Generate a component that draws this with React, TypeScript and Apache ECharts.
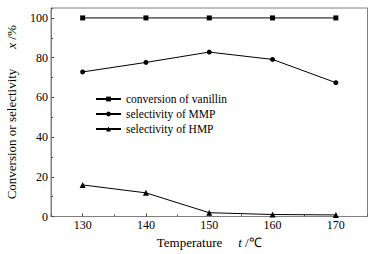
import React, { useEffect, useRef } from "react";
import * as echarts from "echarts";

const temperatures = [130, 140, 150, 160, 170];
const conversionVanillin = [100, 100, 100, 100, 100];
const selectivityMMP = [72.8, 77.6, 82.8, 79.1, 67.4];
const selectivityHMP = [15.9, 11.9, 1.9, 1.0, 0.8];
const xTicks = [130, 140, 150, 160, 170];
const yTicks = [0, 20, 40, 60, 80, 100];
const seriesNames = ["conversion of vanillin", "selectivity of MMP", "selectivity of HMP"];
const xAxisName = "{a|Temperature}{i|t}{b| /℃}";
const yAxisName = "{a|Conversion or selectivity}{i|x}{b| /%}";

const FONT = '"Liberation Serif", "Times New Roman", serif';
const AXIS_GRAY = "#808080";

export default function App() {
  const ref = useRef<HTMLDivElement>(null);
  useEffect(() => {
    document.body.style.margin = "0";
    if (!ref.current) return;
    const chart = echarts.init(ref.current, null, { renderer: "svg" });
    const pairs = (vals: number[]) => temperatures.map((t, i) => [t, vals[i]]);
    const lineSeries = (name: string, vals: number[], symbol: string, size: number) => ({
      name,
      type: "line",
      data: pairs(vals),
      symbol,
      symbolSize: size,
      lineStyle: { color: "#000", width: 1 },
      itemStyle: { color: "#000" },
      xAxisIndex: 0,
      yAxisIndex: 0,
    });
    const nameStyle = (gap: number) => ({
      fontFamily: FONT,
      fontSize: 13,
      color: "#000",
      rich: {
        a: { fontFamily: FONT, fontSize: 13, color: "#000", padding: [0, gap, 0, 0] },
        i: { fontFamily: FONT, fontStyle: "italic", fontSize: 13, color: "#000" },
        b: { fontFamily: FONT, fontSize: 13, color: "#000" },
      },
    });
    chart.setOption({
      animation: false,
      textStyle: { fontFamily: FONT },
      grid: {
        left: 51,
        top: 8,
        right: 10.5,
        bottom: 37.5,
        containLabel: false,
        outerBoundsMode: "none",
        show: true,
        borderColor: AXIS_GRAY,
        borderWidth: 1,
        backgroundColor: "transparent",
      },
      legend: {
        orient: "vertical",
        left: 95,
        top: 92,
        padding: 0,
        itemWidth: 25,
        itemHeight: 6,
        itemGap: 1,
        data: seriesNames,
        textStyle: { fontFamily: FONT, fontSize: 11.5, lineHeight: 14, color: "#000" },
      },
      xAxis: [
        {
          type: "value",
          min: 125,
          max: 175,
          name: xAxisName,
          nameLocation: "middle",
          nameGap: 19,
          nameTextStyle: nameStyle(16),
          splitLine: { show: false },
          axisLine: { lineStyle: { color: AXIS_GRAY, width: 1 } },
          axisTick: { inside: true, length: 3, customValues: xTicks, lineStyle: { color: "#333" } },
          axisLabel: { customValues: xTicks, margin: 2, fontFamily: FONT, fontSize: 12, color: "#000" },
        },
        {
          type: "value",
          min: 125,
          max: 175,
          interval: 5,
          position: "bottom",
          splitLine: { show: false },
          axisLine: { show: false },
          axisTick: { inside: true, length: 2, lineStyle: { color: "#555" } },
          axisLabel: { show: false },
        },
      ],
      yAxis: [
        {
          type: "value",
          min: 0,
          max: 105,
          name: yAxisName,
          nameLocation: "middle",
          nameGap: 33,
          nameTextStyle: nameStyle(20),
          splitLine: { show: false },
          axisLine: { lineStyle: { color: AXIS_GRAY, width: 1 } },
          axisTick: { inside: true, length: 3, customValues: yTicks, lineStyle: { color: "#333" } },
          axisLabel: { customValues: yTicks, margin: 3, fontFamily: FONT, fontSize: 12, color: "#000" },
        },
        {
          type: "value",
          min: 0,
          max: 105,
          interval: 10,
          position: "left",
          splitLine: { show: false },
          axisLine: { show: false },
          axisTick: { inside: true, length: 2, lineStyle: { color: "#555" } },
          axisLabel: { show: false },
        },
      ],
      series: [
        lineSeries(seriesNames[0], conversionVanillin, "rect", 5),
        lineSeries(seriesNames[1], selectivityMMP, "circle", 5),
        lineSeries(seriesNames[2], selectivityHMP, "triangle", 6),
      ],
    });
    return () => chart.dispose();
  }, []);
  return <div ref={ref} style={{ width: 378, height: 254 }} />;
}
